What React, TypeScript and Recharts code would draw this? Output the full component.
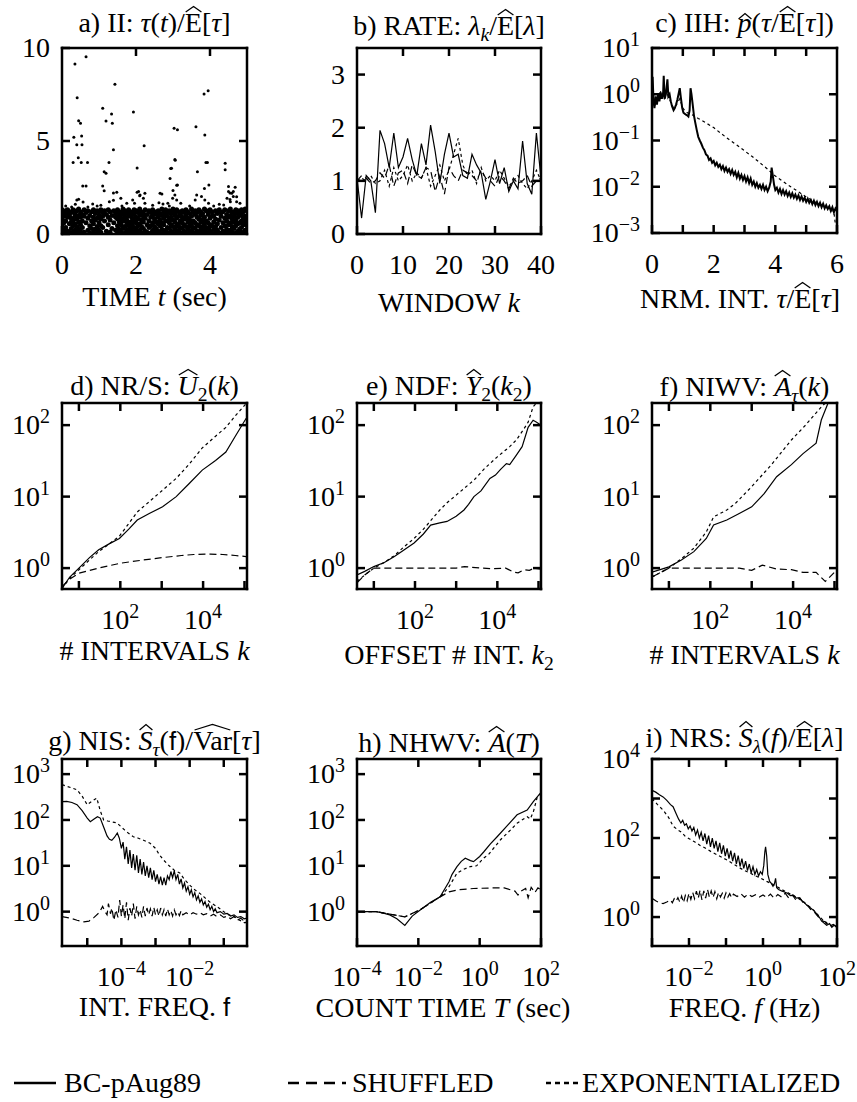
import React from 'react';
import { ComposedChart, Line, Scatter, XAxis, YAxis } from 'recharts';

const FONT = '"Liberation Serif", "Times New Roman", serif';
const SANS = '"Liberation Sans", "DejaVu Sans", sans-serif';

// ---------- a) inter-event intervals (time in sec, normalized interval) ----------
const aOutliers: [number, number][] = [
  [0.35, 9.14], [0.65, 9.53], [0.41, 7.33], [0.45, 6.09], [0.5, 5.95], [0.32, 5.2], [0.53, 5.27], [0.54, 4.8],
  [0.4, 4.8], [0.44, 4.1], [0.3, 3.85], [0.52, 3.85], [0.69, 3.85], [0.56, 2.58], [0.65, 2.58], [1.1, 6.76],
  [1.19, 6.07], [1.34, 6.45], [1.36, 5.95], [1.43, 8.05], [1.39, 4.53], [1.27, 3.84], [1.14, 3.35], [1.19, 3.26],
  [1.1, 2.58], [1.14, 2.33], [1.39, 2.2], [1.48, 2.25], [1.93, 6.56], [2.22, 4.75], [2.03, 3.55], [2.03, 2.25],
  [2.1, 2.05], [2.7, 2.15], [2.92, 2.99], [2.94, 3.52], [3.06, 3.97], [3.03, 5.68], [3.12, 5.6], [3.1, 2.62],
  [3.0, 2.34], [3.62, 5.77], [3.86, 5.32], [3.84, 7.53], [3.95, 7.7], [3.66, 3.35], [3.89, 3.84], [3.93, 3.84],
  [3.85, 2.44], [3.97, 2.63], [4.41, 3.8], [4.41, 3.45], [4.5, 2.55], [4.68, 2.51], [4.54, 2.2], [4.63, 2.28],
  [4.72, 2.0], [4.54, 1.85], [0.4, 1.83], [0.45, 1.87], [0.57, 1.72], [0.36, 1.6], [0.26, 1.45], [0.83, 1.61],
  [1.28, 1.74], [1.39, 1.82], [1.59, 1.92], [1.75, 1.65], [2.07, 2.28], [2.11, 2.1], [2.24, 2.19], [2.2, 1.92],
  [1.91, 1.83], [1.96, 1.65], [2.24, 1.65], [2.65, 2.19], [2.62, 1.68], [2.73, 1.61], [3.05, 4.0], [2.96, 3.53],
  [3.12, 2.63], [3.05, 2.1], [2.99, 1.92], [3.1, 1.83], [2.86, 1.65], [3.21, 1.65], [3.64, 2.1], [3.77, 2.01],
  [3.86, 1.83], [3.6, 1.83], [3.96, 1.65], [4.46, 1.92], [4.63, 2.01], [4.55, 1.74], [4.72, 1.74], [4.81, 1.65],
  [4.37, 1.56], [4.59, 2.19], [4.5, 2.28], [0.1, 1.5], [0.7, 1.45], [0.95, 1.5], [1.05, 1.55], [1.62, 1.5],
  [2.45, 1.55], [2.9, 1.5], [3.45, 1.5], [4.1, 1.5], [4.25, 1.6],
];

// dense band of intervals below ~1.4, one column of readings per time step
const aBand: [number, number[]][] = [
  [0.0, [0.1, 0.45, 0.8, 1.05, 1.3]], [0.05, [0.2, 0.6, 0.95, 1.2]], [0.1, [0.05, 0.35, 0.7, 1.1, 1.25]],
  [0.15, [0.15, 0.9, 1.3]], [0.2, [0.1, 0.55, 1.0, 1.2]], [0.25, [0.3, 0.65, 0.85, 1.15]],
  [0.3, [0.1, 0.45, 0.75, 1.3]], [0.35, [0.2, 0.55, 0.95, 1.1]], [0.4, [0.05, 0.4, 0.8, 1.25]],
  [0.45, [0.25, 0.65, 1.0, 1.35]], [0.5, [0.15, 0.5, 0.9, 1.2]], [0.55, [0.35, 0.7, 1.05]],
  [0.6, [0.1, 0.95, 1.3]], [0.65, [0.6, 1.15]], [0.7, [0.2, 0.85, 1.25]], [0.75, [0.05, 0.45, 1.0]],
  [0.8, [0.3, 0.7, 1.2]], [0.85, [0.1, 0.55, 0.9, 1.3]], [0.9, [0.25, 0.75, 1.1]],
  [0.95, [0.05, 0.4, 0.85, 1.25]], [1.0, [0.2, 0.6, 1.0, 1.2]], [1.05, [0.1, 0.45, 0.8, 1.3]],
  [1.1, [0.35, 0.95, 1.15]], [1.15, [0.7, 1.25]], [1.2, [0.15, 1.05]], [1.25, [0.5, 0.9, 1.3]],
  [1.3, [0.1, 0.75, 1.2]], [1.35, [0.3, 1.0]], [1.4, [0.6, 1.25]], [1.45, [0.2, 0.9, 1.1]],
  [1.5, [0.05, 0.45, 0.8, 1.3]], [1.55, [0.25, 0.65, 1.0, 1.2]], [1.6, [0.1, 0.5, 0.85, 1.15]],
  [1.65, [0.3, 0.7, 1.05, 1.35]], [1.7, [0.05, 0.4, 0.9, 1.25]], [1.75, [0.2, 0.6, 0.75, 1.1]],
  [1.8, [0.1, 0.45, 0.95, 1.3]], [1.85, [0.3, 0.65, 1.0, 1.2]], [1.9, [0.15, 0.5, 0.85, 1.15]],
  [1.95, [0.05, 0.35, 0.7, 1.05, 1.3]], [2.0, [0.25, 0.6, 0.9, 1.25]], [2.05, [0.1, 0.45, 0.8, 1.15]],
  [2.1, [0.2, 0.55, 1.0, 1.35]], [2.15, [0.05, 0.4, 0.75, 1.2]], [2.2, [0.3, 0.65, 0.95, 1.1]],
  [2.25, [0.15, 0.85, 1.3]], [2.3, [0.1, 0.5, 1.05]], [2.35, [0.35, 0.7, 1.25]],
  [2.4, [0.05, 0.45, 0.9, 1.15]], [2.45, [0.2, 0.6, 1.0, 1.3]], [2.5, [0.1, 0.4, 0.8, 1.2]],
  [2.55, [0.3, 0.65, 1.05]], [2.6, [0.15, 0.55, 0.9, 1.25]], [2.65, [0.05, 0.45, 0.75, 1.1]],
  [2.7, [0.25, 0.6, 1.0, 1.35]], [2.75, [0.1, 0.5, 0.85, 1.2]], [2.8, [0.2, 0.7, 1.05, 1.3]],
  [2.85, [0.05, 0.35, 0.95, 1.15]], [2.9, [0.3, 0.6, 0.8, 1.25]], [2.95, [0.15, 0.5, 0.9, 1.1]],
  [3.0, [0.05, 0.4, 0.75, 1.2, 1.35]], [3.05, [0.25, 0.65, 1.0, 1.15]], [3.1, [0.1, 0.45, 0.85, 1.3]],
  [3.15, [0.2, 0.55, 0.95, 1.2]], [3.2, [0.05, 0.35, 0.7, 1.05]], [3.25, [0.3, 0.6, 0.9, 1.25]],
  [3.3, [0.15, 0.5, 0.8, 1.15]], [3.35, [0.05, 0.4, 1.0, 1.3]], [3.4, [0.25, 0.65, 0.85, 1.2]],
  [3.45, [0.1, 0.45, 0.75, 1.1]], [3.5, [0.2, 0.55, 0.95, 1.35]], [3.55, [0.05, 0.35, 0.7, 1.2]],
  [3.6, [0.3, 0.6, 1.05, 1.25]], [3.65, [0.15, 0.5, 0.9, 1.15]], [3.7, [0.1, 0.45, 0.8, 1.3]],
  [3.75, [0.25, 0.65, 1.0, 1.2]], [3.8, [0.05, 0.4, 0.75, 1.1]], [3.85, [0.2, 0.55, 0.9, 1.35]],
  [3.9, [0.1, 0.35, 0.7, 1.25]], [3.95, [0.3, 0.6, 1.05, 1.15]], [4.0, [0.15, 0.5, 0.85, 1.3]],
  [4.05, [0.05, 0.45, 0.95, 1.2]], [4.1, [0.25, 0.65, 1.0]], [4.15, [0.1, 0.4, 0.8, 1.25]],
  [4.2, [0.2, 0.55, 1.1]], [4.25, [0.05, 0.75, 1.3]], [4.3, [0.35, 0.95, 1.15]], [4.35, [0.15, 0.6, 1.2]],
  [4.4, [0.1, 0.45, 0.85, 1.3]], [4.45, [0.25, 0.7, 1.05]], [4.5, [0.05, 0.5, 0.9, 1.25]],
  [4.55, [0.2, 0.6, 1.0, 1.35]], [4.6, [0.1, 0.4, 0.8, 1.15]], [4.65, [0.3, 0.65, 0.95, 1.2]],
  [4.7, [0.05, 0.45, 0.75, 1.1, 1.3]], [4.75, [0.15, 0.55, 0.9, 1.25]], [4.8, [0.25, 0.6, 1.0, 1.15]],
  [4.85, [0.1, 0.35, 0.7, 1.05, 1.3]], [4.9, [0.05, 0.5, 0.85, 1.2]], [4.95, [0.2, 0.65, 0.95, 1.35]],
  [5.0, [0.1, 0.45, 0.8, 1.25]],
];

// ---------- b) rate per window ----------
const bWindows = [0, 1, 2, 3, 4, 5, 6, 7, 8, 9, 10, 11, 12, 13, 14, 15, 16, 17, 18, 19, 20, 21, 22, 23, 24, 25, 26, 27, 28, 29, 30, 31, 32, 33, 34, 35, 36, 37, 38, 39, 40];
const bOrig = [1.05, 0.3, 1.1, 1.0, 0.4, 1.95, 1.7, 1.25, 1.9, 1.25, 1.45, 1.8, 1.4, 1.1, 1.7, 1.3, 2.05, 1.55, 0.95, 1.5, 1.9, 1.45, 1.5, 1.1, 1.05, 1.5, 1.3, 1.15, 0.65, 1.0, 1.4, 0.95, 1.25, 0.8, 1.0, 0.85, 1.75, 0.95, 0.75, 1.9, 1.05];
const bShuf = [1.0, 1.1, 1.05, 0.95, 1.0, 1.15, 1.05, 1.3, 0.9, 1.15, 1.2, 0.95, 1.3, 1.1, 1.05, 1.25, 1.2, 0.8, 1.1, 0.75, 1.25, 1.1, 1.0, 1.2, 1.15, 1.1, 1.0, 1.2, 1.05, 1.0, 0.9, 1.1, 1.0, 0.85, 1.05, 0.95, 1.0, 1.1, 0.9, 1.0, 1.05];
const bExp = [1.0, 1.05, 1.0, 1.1, 0.95, 1.0, 1.2, 0.9, 1.25, 1.0, 1.1, 1.3, 1.0, 1.15, 1.05, 1.25, 0.9, 1.1, 1.3, 1.0, 1.2, 1.5, 1.8, 1.3, 1.1, 1.2, 0.95, 1.25, 1.0, 1.1, 1.0, 1.2, 1.05, 0.9, 1.0, 1.1, 0.95, 0.85, 1.0, 1.2, 1.0];

// ---------- c) interval histogram ----------
const cOrig: [number, number][] = [
  [0, 0.6], [0.02, 2.4], [0.05, 0.7], [0.08, 0.5], [0.12, 0.9], [0.16, 0.6], [0.2, 1.0], [0.24, 0.7], [0.28, 1.1],
  [0.32, 0.8], [0.36, 1.0], [0.38, 2.5], [0.41, 0.8], [0.45, 1.0], [0.5, 2.1], [0.53, 0.9], [0.57, 1.0], [0.61, 0.7],
  [0.65, 0.55], [0.7, 0.45], [0.74, 0.5], [0.78, 0.6], [0.82, 0.75], [0.86, 1.0], [0.9, 1.35], [0.94, 0.8], [0.98, 0.5],
  [1.02, 0.4], [1.06, 0.38], [1.1, 0.36], [1.14, 0.35], [1.18, 0.33], [1.22, 0.45], [1.25, 1.35], [1.28, 1.0],
  [1.32, 0.6], [1.36, 0.35], [1.4, 0.25], [1.45, 0.17], [1.5, 0.12], [1.55, 0.1], [1.6, 0.085], [1.65, 0.07],
  [1.7, 0.062], [1.75, 0.05], [1.8, 0.047], [1.85, 0.038], [1.9, 0.041], [1.95, 0.033], [2.0, 0.036], [2.05, 0.029],
  [2.1, 0.033], [2.15, 0.027], [2.2, 0.03], [2.25, 0.024], [2.3, 0.028], [2.35, 0.022], [2.4, 0.026], [2.45, 0.021],
  [2.5, 0.024], [2.55, 0.019], [2.6, 0.023], [2.65, 0.018], [2.7, 0.021], [2.75, 0.016], [2.8, 0.02], [2.85, 0.015],
  [2.9, 0.018], [2.95, 0.014], [3.0, 0.017], [3.05, 0.013], [3.1, 0.016], [3.15, 0.012], [3.2, 0.015], [3.25, 0.011],
  [3.3, 0.013], [3.35, 0.01], [3.4, 0.012], [3.45, 0.0095], [3.5, 0.011], [3.55, 0.009], [3.6, 0.011], [3.65, 0.0085],
  [3.7, 0.01], [3.75, 0.008], [3.8, 0.0095], [3.85, 0.013], [3.88, 0.026], [3.92, 0.017], [3.96, 0.011], [4.0, 0.0085],
  [4.05, 0.0095], [4.1, 0.0075], [4.15, 0.009], [4.2, 0.007], [4.25, 0.0085], [4.3, 0.0068], [4.35, 0.008],
  [4.4, 0.0063], [4.45, 0.0075], [4.5, 0.006], [4.55, 0.0072], [4.6, 0.0058], [4.65, 0.0068], [4.7, 0.0055],
  [4.75, 0.0065], [4.8, 0.0052], [4.85, 0.0062], [4.9, 0.005], [4.95, 0.0058], [5.0, 0.0047], [5.05, 0.0055],
  [5.1, 0.0045], [5.15, 0.0052], [5.2, 0.0042], [5.25, 0.005], [5.3, 0.004], [5.35, 0.0047], [5.4, 0.0038],
  [5.45, 0.0045], [5.5, 0.0036], [5.55, 0.0043], [5.6, 0.0034], [5.65, 0.004], [5.7, 0.0033], [5.75, 0.0038],
  [5.8, 0.003], [5.85, 0.0036], [5.9, 0.0028], [5.95, 0.0034], [6.0, 0.003],
];
const cExp: [number, number][] = [
  [0, 0.8], [0.1, 0.6], [0.2, 0.9], [0.3, 1.2], [0.4, 0.8], [0.5, 1.0], [0.6, 0.7], [0.7, 0.5], [0.8, 0.6], [0.9, 0.8],
  [1.0, 0.5], [1.1, 0.42], [1.2, 0.38], [1.3, 0.36], [1.4, 0.33], [1.5, 0.3], [1.75, 0.24], [2.0, 0.19], [2.25, 0.14],
  [2.5, 0.105], [2.75, 0.08], [3.0, 0.06], [3.25, 0.045], [3.5, 0.033], [3.75, 0.024], [4.0, 0.017], [4.25, 0.013],
  [4.5, 0.01], [4.75, 0.0078], [5.0, 0.006], [5.25, 0.0048], [5.5, 0.004], [5.75, 0.0033], [5.9, 0.0028], [5.95, 0.0015],
];

// ---------- d) R/S ----------
const dOrig: [number, number][] = [[3.9, 0.52], [6, 0.75], [10, 1.0], [18, 1.4], [30, 1.8], [55, 2.2], [95, 2.6], [160, 3.5], [257, 4.7], [500, 5.8], [1050, 7.2], [2240, 10], [4500, 15], [9550, 23.5], [20000, 32], [35500, 42], [60000, 70], [110000, 125]];
const dExp: [number, number][] = [[3.9, 0.52], [6, 0.72], [10, 0.95], [18, 1.3], [30, 1.7], [55, 2.2], [95, 2.8], [160, 4.2], [257, 6.1], [500, 8.5], [1050, 12.3], [2240, 18], [4500, 28], [9550, 48], [20000, 70], [35500, 93], [60000, 135], [110000, 200]];
const dShuf: [number, number][] = [[3.9, 0.55], [6, 0.7], [10, 0.85], [30, 1.0], [100, 1.17], [300, 1.28], [1000, 1.4], [3000, 1.5], [6000, 1.55], [15000, 1.57], [30000, 1.55], [60000, 1.5], [110000, 1.45]];

// ---------- e) normalized difference ----------
const eOrig: [number, number][] = [[3.9, 0.8], [6, 0.9], [10, 1.05], [18, 1.2], [31.6, 1.45], [55, 1.8], [95, 2.25], [160, 3.0], [240, 4.0], [400, 4.3], [600, 4.5], [1000, 5.3], [1550, 6.5], [2000, 7.8], [2700, 10], [4000, 12], [6600, 18], [9000, 20], [12000, 24], [16600, 29], [20000, 28], [29000, 38], [40000, 50], [56000, 93], [74000, 117], [90000, 110], [115000, 100]];
const eExp: [number, number][] = [[3.9, 0.65], [6, 0.8], [10, 1.0], [18, 1.2], [31.6, 1.5], [55, 2.0], [95, 2.6], [160, 3.5], [240, 4.6], [400, 6.5], [600, 8.2], [1000, 10.5], [2700, 17], [5000, 25], [10000, 36], [20000, 50], [29000, 62], [45000, 90], [56000, 110], [74000, 180], [90000, 204]];
const eShuf: [number, number][] = [[3.9, 0.62], [6, 0.8], [10, 1.0], [100, 1.0], [1000, 1.0], [1600, 1.05], [4000, 1.0], [8000, 0.98], [16000, 1.0], [25000, 0.88], [32000, 0.86], [45000, 0.95], [60000, 0.93], [80000, 1.0], [115000, 0.97]];

// ---------- f) interval wavelet variance ----------
const fOrig: [number, number][] = [[3.9, 0.88], [10, 1.04], [20, 1.3], [40, 1.7], [80, 2.6], [120, 4.0], [250, 4.7], [500, 5.8], [1000, 7.2], [2000, 11], [4000, 19], [9100, 28], [17400, 40], [36000, 56], [48000, 118], [70000, 204]];
const fExp: [number, number][] = [[3.9, 0.75], [10, 1.0], [20, 1.35], [40, 1.9], [80, 3.2], [120, 5.2], [250, 6.5], [400, 8.0], [1000, 13.8], [3000, 28], [9100, 62], [20000, 100], [48000, 180], [60000, 204]];
const fShuf: [number, number][] = [[3.9, 0.75], [10, 1.0], [100, 1.0], [500, 1.0], [1000, 0.93], [1800, 1.1], [4000, 0.97], [9100, 0.95], [17400, 0.87], [36000, 0.87], [60000, 0.65], [115000, 0.95]];

// ---------- g) interval spectrum, x given as log10(f) ----------
const gOrig: [number, number][] = [
  [-5.74, 250], [-5.6, 255], [-5.45, 240], [-5.3, 215], [-5.15, 160], [-5.0, 110], [-4.91, 92], [-4.8, 105], [-4.7, 118],
  [-4.62, 110], [-4.52, 70], [-4.42, 45], [-4.35, 38], [-4.28, 36], [-4.2, 42], [-4.12, 52], [-4.06, 40], [-4.0, 24],
  [-3.95, 33], [-3.9, 14], [-3.85, 26], [-3.8, 11], [-3.75, 22], [-3.7, 9], [-3.65, 18], [-3.6, 8], [-3.55, 17],
  [-3.5, 7], [-3.45, 14], [-3.4, 6.5], [-3.35, 12], [-3.3, 6], [-3.25, 10], [-3.2, 5.5], [-3.15, 9], [-3.1, 5],
  [-3.05, 8], [-3.0, 4.5], [-2.95, 6.5], [-2.9, 4.0], [-2.85, 5.8], [-2.8, 3.8], [-2.75, 5.5], [-2.7, 3.8], [-2.65, 6],
  [-2.6, 5], [-2.55, 7.5], [-2.5, 5.5], [-2.45, 7.8], [-2.4, 5], [-2.35, 6.5], [-2.3, 4], [-2.25, 5.2], [-2.2, 3.3],
  [-2.15, 4.2], [-2.1, 2.8], [-2.05, 3.5], [-2.0, 2.4], [-1.95, 3.0], [-1.9, 2.1], [-1.85, 2.6], [-1.8, 1.8],
  [-1.75, 2.2], [-1.7, 1.6], [-1.65, 1.9], [-1.6, 1.4], [-1.55, 1.65], [-1.5, 1.25], [-1.45, 1.45], [-1.4, 1.1],
  [-1.35, 1.3], [-1.3, 1.0], [-1.25, 1.15], [-1.2, 0.95], [-1.1, 1.0], [-1.0, 0.88], [-0.9, 0.92], [-0.8, 0.8],
  [-0.7, 0.85], [-0.6, 0.75], [-0.5, 0.78], [-0.4, 0.7], [-0.32, 0.72],
];
const gExp: [number, number][] = [
  [-5.74, 590], [-5.6, 540], [-5.45, 500], [-5.3, 456], [-5.15, 330], [-5.0, 215], [-4.85, 260], [-4.72, 300],
  [-4.62, 160], [-4.52, 100], [-4.4, 95], [-4.25, 90], [-4.13, 86], [-4.0, 70], [-3.9, 60], [-3.8, 52], [-3.65, 43],
  [-3.5, 40], [-3.35, 36], [-3.16, 31], [-3.0, 24], [-2.9, 18], [-2.77, 13.5], [-2.6, 10], [-2.45, 8], [-2.29, 7],
  [-2.15, 5], [-2.0, 3.8], [-1.85, 3.0], [-1.7, 2.5], [-1.55, 2.0], [-1.4, 1.6], [-1.21, 1.3], [-1.0, 1.0],
  [-0.85, 0.85], [-0.73, 0.8], [-0.55, 0.66], [-0.38, 0.57], [-0.32, 0.6],
];
const gShuf: [number, number][] = [
  [-5.74, 0.78], [-5.5, 0.72], [-5.3, 0.65], [-5.1, 0.6], [-4.95, 0.62], [-4.8, 0.75], [-4.65, 0.95], [-4.55, 1.3],
  [-4.48, 1.0], [-4.42, 0.85], [-4.38, 1.5], [-4.32, 0.9], [-4.28, 1.2], [-4.22, 0.65], [-4.16, 1.1], [-4.1, 0.75],
  [-4.05, 1.8], [-4.0, 0.8], [-3.95, 1.4], [-3.9, 0.7], [-3.85, 1.6], [-3.8, 0.65], [-3.75, 1.2], [-3.7, 0.8],
  [-3.65, 1.5], [-3.6, 0.7], [-3.55, 1.3], [-3.5, 0.85], [-3.45, 1.1], [-3.4, 0.75], [-3.35, 1.3], [-3.3, 0.8],
  [-3.25, 1.2], [-3.2, 0.85], [-3.15, 1.15], [-3.1, 0.8], [-3.05, 1.25], [-3.0, 0.85], [-2.95, 1.1], [-2.9, 0.8],
  [-2.85, 1.2], [-2.8, 0.85], [-2.75, 1.1], [-2.7, 0.8], [-2.65, 1.15], [-2.6, 0.85], [-2.55, 1.05], [-2.5, 0.8],
  [-2.45, 1.1], [-2.4, 0.85], [-2.35, 1.0], [-2.3, 0.82], [-2.25, 1.05], [-2.2, 0.85], [-2.1, 0.95], [-2.0, 0.85],
  [-1.9, 0.95], [-1.8, 0.88], [-1.7, 0.95], [-1.6, 0.85], [-1.5, 0.9], [-1.4, 0.8], [-1.3, 0.88], [-1.2, 0.78],
  [-1.1, 0.85], [-1.0, 0.75], [-0.9, 0.8], [-0.8, 0.7], [-0.7, 0.78], [-0.6, 0.65], [-0.5, 0.72], [-0.4, 0.62],
  [-0.32, 0.7],
];

// ---------- h) Haar wavelet variance of counts, x as log10(T) ----------
const hOrig: [number, number][] = [[-4, 1.0], [-3.7, 1.0], [-3.38, 1.0], [-3.2, 0.95], [-2.93, 0.85], [-2.7, 0.7], [-2.44, 0.5], [-2.2, 0.8], [-1.94, 1.09], [-1.6, 1.6], [-1.29, 2.1], [-1.0, 4.5], [-0.9, 6.5], [-0.74, 9.6], [-0.6, 12.5], [-0.47, 14.6], [-0.3, 13], [-0.2, 12.3], [0.0, 16], [0.13, 20], [0.35, 30], [0.57, 43], [0.9, 75], [1.22, 130], [1.55, 165], [1.75, 250], [2.0, 400]];
const hExp: [number, number][] = [[-4, 1.0], [-3.38, 1.0], [-2.93, 0.88], [-2.44, 0.77], [-1.94, 1.1], [-1.29, 2.1], [-1.0, 3.5], [-0.74, 6.9], [-0.5, 8.5], [-0.31, 9.6], [-0.1, 10], [0.13, 14.7], [0.3, 18], [0.68, 37], [1.0, 60], [1.22, 85], [1.55, 118], [1.65, 105], [1.75, 150], [1.88, 320], [2.0, 380]];
const hShuf: [number, number][] = [[-4, 1.0], [-3.38, 1.0], [-2.93, 0.88], [-2.44, 0.77], [-1.94, 1.1], [-1.29, 2.1], [-1.0, 2.7], [-0.7, 3.0], [-0.2, 3.2], [0.5, 3.3], [0.8, 3.3], [1.0, 3.0], [1.15, 2.8], [1.25, 2.3], [1.35, 2.8], [1.5, 3.2], [1.58, 2.0], [1.68, 3.4], [1.8, 2.6], [1.9, 3.3], [2.0, 3.0]];

// ---------- i) rate spectrum, x as log10(f) ----------
const iOrig: [number, number][] = [
  [-3.0, 1620], [-2.9, 1450], [-2.8, 1250], [-2.7, 1100], [-2.6, 900], [-2.5, 700], [-2.43, 620], [-2.35, 420],
  [-2.28, 300], [-2.22, 240], [-2.17, 280], [-2.12, 210], [-2.07, 230], [-2.02, 170], [-1.97, 200], [-1.92, 150],
  [-1.87, 185], [-1.82, 120], [-1.77, 160], [-1.72, 100], [-1.67, 140], [-1.62, 85], [-1.57, 130], [-1.52, 70],
  [-1.47, 115], [-1.42, 60], [-1.37, 100], [-1.32, 55], [-1.27, 85], [-1.22, 45], [-1.17, 75], [-1.12, 40],
  [-1.07, 65], [-1.02, 35], [-0.97, 55], [-0.92, 30], [-0.87, 48], [-0.82, 26], [-0.77, 42], [-0.72, 22],
  [-0.67, 36], [-0.62, 19], [-0.57, 30], [-0.52, 17], [-0.47, 26], [-0.42, 15], [-0.37, 22], [-0.32, 13],
  [-0.27, 19], [-0.22, 12], [-0.17, 16], [-0.12, 11], [-0.07, 14], [-0.02, 12], [0.02, 20], [0.05, 45], [0.07, 60],
  [0.1, 35], [0.13, 12], [0.18, 8], [0.22, 7.2], [0.27, 6], [0.31, 7], [0.34, 9.5], [0.37, 5.5], [0.42, 5],
  [0.5, 4.6], [0.58, 4.3], [0.66, 4.0], [0.74, 3.5], [0.82, 3.6], [0.9, 3.0], [0.98, 3.1], [1.05, 2.6], [1.1, 2.4],
  [1.18, 2.0], [1.25, 1.8], [1.32, 1.6], [1.37, 1.5], [1.45, 1.2], [1.52, 1.0], [1.58, 0.8], [1.65, 0.7],
  [1.72, 0.62], [1.8, 0.68], [1.86, 0.55], [1.92, 0.62], [2.0, 0.57],
];
const iExp: [number, number][] = [
  [-3.0, 1000], [-2.85, 700], [-2.7, 510], [-2.55, 330], [-2.43, 200], [-2.3, 160], [-2.2, 140], [-2.1, 110],
  [-1.97, 93], [-1.85, 80], [-1.7, 65], [-1.55, 55], [-1.4, 45], [-1.25, 38], [-1.1, 32], [-0.95, 27], [-0.8, 22],
  [-0.65, 18], [-0.5, 15], [-0.35, 13], [-0.2, 11], [-0.05, 9.5], [0.1, 8], [0.3, 6.5], [0.5, 5], [0.7, 4],
  [0.9, 3.2], [1.1, 2.4], [1.3, 1.7], [1.5, 1.1], [1.7, 0.7], [1.85, 0.6], [2.0, 0.55],
];
const iShuf: [number, number][] = [
  [-3.0, 3.0], [-2.9, 2.6], [-2.8, 2.3], [-2.7, 2.2], [-2.6, 2.4], [-2.5, 2.7], [-2.45, 2.3], [-2.4, 2.9],
  [-2.35, 2.5], [-2.3, 3.1], [-2.25, 2.4], [-2.2, 3.4], [-2.15, 2.3], [-2.1, 3.5], [-2.05, 2.6], [-2.0, 4.0],
  [-1.95, 2.8], [-1.9, 4.2], [-1.85, 2.9], [-1.8, 4.5], [-1.75, 3.0], [-1.7, 4.8], [-1.65, 2.7], [-1.6, 4.6],
  [-1.55, 3.0], [-1.5, 5.0], [-1.45, 3.2], [-1.4, 4.6], [-1.35, 3.1], [-1.3, 4.4], [-1.25, 2.9], [-1.2, 4.2],
  [-1.15, 3.2], [-1.1, 4.0], [-1.05, 3.0], [-1.0, 4.1], [-0.95, 3.2], [-0.9, 3.9], [-0.85, 3.1], [-0.8, 3.8],
  [-0.7, 3.3], [-0.6, 3.9], [-0.5, 3.2], [-0.4, 3.8], [-0.3, 3.3], [-0.2, 3.7], [-0.1, 3.2], [0.0, 3.6], [0.1, 3.1],
  [0.2, 3.8], [0.3, 3.0], [0.4, 3.7], [0.5, 3.2], [0.6, 4.0], [0.7, 3.0], [0.8, 3.6], [0.9, 2.6], [1.0, 3.0],
  [1.1, 2.2], [1.2, 2.0], [1.3, 1.5], [1.4, 1.3], [1.5, 1.0], [1.6, 0.8], [1.7, 0.75], [1.8, 0.6], [1.9, 0.65],
  [2.0, 0.55],
];

// ---------- helpers ----------
type Pt = { x: number; y: number };
const pts = (pairs: [number, number][]): Pt[] => pairs.map(([x, y]) => ({ x, y }));
const logPts = (pairs: [number, number][]): Pt[] => pairs.map(([e, y]) => ({ x: Math.pow(10, e), y }));

const SOLID = undefined;
const SHUF = '7 4';
const EXP = '3 3';

const FS = 28; // main text size
const near = (a: number, b: number) => Math.abs(a - b) <= 1e-6 * Math.max(Math.abs(a), Math.abs(b), 1e-12);

const tickLabel = (side: 'bottom' | 'left', labels: number[], log: boolean) => (props: any) => {
  const { x, y, payload } = props;
  const v = Number(payload.value);
  if (!labels.some((l) => near(l, v))) return <g />;
  const tx = side === 'bottom' ? x : x - 12;
  const ty = side === 'bottom' ? y + 40 : y + 9;
  const anchor = side === 'bottom' ? 'middle' : 'end';
  if (!log) {
    return (
      <text x={tx} y={ty} textAnchor={anchor} fontFamily={FONT} fontSize={FS} fill="#000">
        {v}
      </text>
    );
  }
  const n = Math.round(Math.log10(v));
  return (
    <text x={tx} y={ty} textAnchor={anchor} fontFamily={FONT} fontSize={FS} fill="#000">
      10
      <tspan fontSize={20} dy={-11}>
        {n < 0 ? '\u2212' + -n : String(n)}
      </tspan>
    </text>
  );
};
const noLabel = () => <g />;

const frame = { stroke: '#000', strokeWidth: 2.5, strokeLinecap: 'square' as const };
const tickStyle = { stroke: '#000', strokeWidth: 2.5 };

const AX_L = 70;
const AX_T = 30;
const AX_R = 40;
const AX_B = 50;

type Series = { data: Pt[]; dash?: string; width?: number };

type PanelProps = {
  box: [number, number, number, number];
  xDomain: [number, number];
  yDomain: [number, number];
  xLog?: boolean;
  yLog?: boolean;
  xTicks: number[];
  xTopTicks: number[];
  xLabels: number[];
  yTicks: number[];
  yRightTicks: number[];
  yLabels: number[];
  lines: Series[];
  dots?: Pt[];
  band?: Pt[];
};

function Panel(p: PanelProps) {
  const [bx, by, bw, bh] = p.box;
  const xScale = p.xLog ? 'log' : 'linear';
  const yScale = p.yLog ? 'log' : 'linear';
  return (
    <div style={{ position: 'absolute', left: bx - AX_L, top: by - AX_T }}>
      <ComposedChart width={AX_L + bw + AX_R} height={AX_T + bh + AX_B} margin={{ top: 0, right: 0, bottom: 0, left: 0 }}>
        <XAxis xAxisId="b" type="number" dataKey="x" scale={xScale} domain={p.xDomain} allowDataOverflow
          ticks={p.xTicks} interval={0} height={AX_B} tickSize={-8} tickMargin={8}
          axisLine={frame} tickLine={tickStyle} tick={tickLabel('bottom', p.xLabels, !!p.xLog)} />
        <XAxis xAxisId="t" orientation="top" type="number" dataKey="x" scale={xScale} domain={p.xDomain} allowDataOverflow
          ticks={p.xTopTicks} interval={0} height={AX_T} tickSize={-8} tickMargin={8}
          axisLine={frame} tickLine={tickStyle} tick={noLabel} />
        <YAxis yAxisId="l" type="number" dataKey="y" scale={yScale} domain={p.yDomain} allowDataOverflow
          ticks={p.yTicks} interval={0} width={AX_L} tickSize={-8} tickMargin={8}
          axisLine={frame} tickLine={tickStyle} tick={tickLabel('left', p.yLabels, !!p.yLog)} />
        <YAxis yAxisId="r" orientation="right" type="number" dataKey="y" scale={yScale} domain={p.yDomain} allowDataOverflow
          ticks={p.yRightTicks} interval={0} width={AX_R} tickSize={-8} tickMargin={8}
          axisLine={frame} tickLine={tickStyle} tick={noLabel} />
        {p.band && (
          <Scatter xAxisId="b" yAxisId="l" data={p.band} dataKey="y" isAnimationActive={false}
            shape={(s: any) => <circle cx={s.cx} cy={s.cy} r={2.5} fill="#000" />} />
        )}
        {p.dots && (
          <Scatter xAxisId="b" yAxisId="l" data={p.dots} dataKey="y" isAnimationActive={false}
            shape={(s: any) => <circle cx={s.cx} cy={s.cy} r={1.5} fill="#000" />} />
        )}
        {p.lines.map((s, i) => (
          <Line key={i} xAxisId="b" yAxisId="l" data={s.data} dataKey="y" type="linear" dot={false}
            stroke="#000" strokeWidth={s.width ?? 1.2} strokeDasharray={s.dash} isAnimationActive={false} />
        ))}
      </ComposedChart>
    </div>
  );
}

function Hat({ children, lift = 0 }: { children: React.ReactNode; lift?: number }) {
  return (
    <span style={{ position: 'relative', display: 'inline-block' }}>
      {children}
      <svg style={{ position: 'absolute', left: 0, top: -3 + lift, width: '100%', height: 6, overflow: 'visible' }}
        viewBox="0 0 100 6" preserveAspectRatio="none">
        <polyline points="4,6 50,0.5 96,6" fill="none" stroke="#000" strokeWidth={1.3} vectorEffect="non-scaling-stroke" />
      </svg>
    </span>
  );
}

const Sub = ({ children }: { children: React.ReactNode }) => (
  <span style={{ fontSize: '0.7em', position: 'relative', top: '0.3em' }}>{children}</span>
);
const Sf = ({ children }: { children: React.ReactNode }) => (
  <span style={{ fontFamily: SANS, fontSize: '0.92em' }}>{children}</span>
);

function Caption({ cx, baseline, children }: { cx: number; baseline: number; children: React.ReactNode }) {
  return (
    <div style={{
      position: 'absolute', left: cx - 200, width: 400, top: baseline - 23, textAlign: 'center',
      fontFamily: FONT, fontSize: FS, lineHeight: FS + 'px', whiteSpace: 'nowrap', color: '#000',
    }}>
      {children}
    </div>
  );
}

const bPts = (vals: number[]): Pt[] => vals.map((y, i) => ({ x: bWindows[i], y }));
const aBandPts: Pt[] = aBand.flatMap(([t, vs]) => vs.map((v) => ({ x: t, y: v })));

const C1 = 154.5;
const C2 = 449;
const C3 = 744.5;

export default function App() {
  return (
    <div style={{ position: 'absolute', left: 0, top: 0, width: 857, height: 1102, background: '#fff', fontFamily: FONT, overflow: 'hidden' }}>
      {/* row 1 */}
      <Panel box={[62, 48, 185, 186]} xDomain={[0, 5]} yDomain={[0, 10]}
        xTicks={[0, 2, 4]} xTopTicks={[2, 4]} xLabels={[0, 2, 4]}
        yTicks={[0, 5, 10]} yRightTicks={[5]} yLabels={[0, 5, 10]} lines={[]} band={aBandPts} dots={pts(aOutliers)} />
      <Panel box={[357, 48, 184, 186]} xDomain={[0, 40]} yDomain={[0, 3.5]}
        xTicks={[0, 10, 20, 30, 40]} xTopTicks={[10, 20, 30]} xLabels={[0, 10, 20, 30, 40]}
        yTicks={[0, 1, 2, 3]} yRightTicks={[1, 2, 3]} yLabels={[0, 1, 2, 3]}
        lines={[{ data: bPts(bShuf), dash: SHUF }, { data: bPts(bExp), dash: EXP }, { data: bPts(bOrig), dash: SOLID }]} />
      <Panel box={[652, 48, 185, 185]} xDomain={[0, 6]} yDomain={[0.001, 10]} yLog
        xTicks={[0, 1, 2, 3, 4, 5, 6]} xTopTicks={[1, 2, 3, 4, 5]} xLabels={[0, 2, 4, 6]}
        yTicks={[0.001, 0.01, 0.1, 1, 10]} yRightTicks={[0.01, 0.1, 1]} yLabels={[0.001, 0.01, 0.1, 1, 10]}
        lines={[{ data: pts(cExp), dash: EXP }, { data: pts(cOrig), dash: SOLID, width: 2 }]} />

      {/* row 2 */}
      <Panel box={[62, 403, 185, 186]} xDomain={[3.9, 115000]} yDomain={[0.51, 204]} xLog yLog
        xTicks={[10, 100, 1000, 10000, 100000]} xTopTicks={[10, 100, 1000, 10000]} xLabels={[100, 10000]}
        yTicks={[1, 10, 100]} yRightTicks={[1, 10, 100]} yLabels={[1, 10, 100]}
        lines={[{ data: pts(dShuf), dash: SHUF }, { data: pts(dExp), dash: EXP }, { data: pts(dOrig), dash: SOLID }]} />
      <Panel box={[357, 403, 184, 186]} xDomain={[3.9, 115000]} yDomain={[0.51, 204]} xLog yLog
        xTicks={[10, 100, 1000, 10000, 100000]} xTopTicks={[10, 100, 1000, 10000]} xLabels={[100, 10000]}
        yTicks={[1, 10, 100]} yRightTicks={[1, 10, 100]} yLabels={[1, 10, 100]}
        lines={[{ data: pts(eShuf), dash: SHUF }, { data: pts(eExp), dash: EXP }, { data: pts(eOrig), dash: SOLID }]} />
      <Panel box={[652, 403, 185, 186]} xDomain={[3.9, 115000]} yDomain={[0.51, 204]} xLog yLog
        xTicks={[10, 100, 1000, 10000, 100000]} xTopTicks={[10, 100, 1000, 10000]} xLabels={[100, 10000]}
        yTicks={[1, 10, 100]} yRightTicks={[1, 10, 100]} yLabels={[1, 10, 100]}
        lines={[{ data: pts(fShuf), dash: SHUF }, { data: pts(fExp), dash: EXP }, { data: pts(fOrig), dash: SOLID }]} />

      {/* row 3 */}
      <Panel box={[62, 759, 185, 187]} xDomain={[1.82e-6, 0.479]} yDomain={[0.178, 2138]} xLog yLog
        xTicks={[1e-5, 1e-4, 1e-3, 1e-2, 1e-1]} xTopTicks={[1e-5, 1e-4, 1e-3, 1e-2, 1e-1]} xLabels={[1e-4, 1e-2]}
        yTicks={[1, 10, 100, 1000]} yRightTicks={[1, 10, 100, 1000]} yLabels={[1, 10, 100, 1000]}
        lines={[{ data: logPts(gShuf), dash: SHUF }, { data: logPts(gExp), dash: EXP }, { data: logPts(gOrig), dash: SOLID }]} />
      <Panel box={[357, 759, 184, 187]} xDomain={[1e-4, 100]} yDomain={[0.178, 2138]} xLog yLog
        xTicks={[1e-4, 1e-2, 1, 100]} xTopTicks={[1e-2, 1]} xLabels={[1e-4, 1e-2, 1, 100]}
        yTicks={[1, 10, 100, 1000]} yRightTicks={[1, 10, 100, 1000]} yLabels={[1, 10, 100, 1000]}
        lines={[{ data: logPts(hShuf), dash: SHUF }, { data: logPts(hExp), dash: EXP }, { data: logPts(hOrig), dash: SOLID }]} />
      <Panel box={[652, 759, 185, 187]} xDomain={[1e-3, 100]} yDomain={[0.185, 10000]} xLog yLog
        xTicks={[1e-3, 1e-2, 1e-1, 1, 10, 100]} xTopTicks={[1e-2, 1e-1, 1, 10]} xLabels={[1e-2, 1, 100]}
        yTicks={[1, 10, 100, 1000, 10000]} yRightTicks={[1, 10, 100, 1000]} yLabels={[1, 100, 10000]}
        lines={[{ data: logPts(iShuf), dash: SHUF }, { data: logPts(iExp), dash: EXP }, { data: logPts(iOrig), dash: SOLID }]} />

      {/* titles */}
      <Caption cx={C1} baseline={32}>a) II: <i>τ</i>(<i>t</i>)/<Hat>E</Hat>[<i>τ</i>]</Caption>
      <Caption cx={C2} baseline={35}>b) RATE: <i>λ</i><Sub><i>k</i></Sub>/<Hat>E</Hat>[<i>λ</i>]</Caption>
      <Caption cx={C3} baseline={32}>c) IIH: <Hat lift={7}><i>p</i></Hat>(<i>τ</i>/<Hat>E</Hat>[<i>τ</i>])</Caption>
      <Caption cx={C1} baseline={395}>d) NR/S: <Hat><i>U</i></Hat><Sub>2</Sub>(<i>k</i>)</Caption>
      <Caption cx={C2} baseline={395}>e) NDF: <Hat><i>Y</i></Hat><Sub>2</Sub>(<i>k</i><Sub>2</Sub>)</Caption>
      <Caption cx={C3} baseline={396}>f) NIWV: <Hat><i>A</i></Hat><Sub><i>τ</i></Sub>(<i>k</i>)</Caption>
      <Caption cx={C1} baseline={750}>g) NIS: <Hat><i>S</i></Hat><Sub><i>τ</i></Sub>(<Sf>f</Sf>)/<Hat>Var</Hat>[<i>τ</i>]</Caption>
      <Caption cx={C2} baseline={752}>h) NHWV: <Hat><i>A</i></Hat>(<i>T</i>)</Caption>
      <Caption cx={C3} baseline={747}>i) NRS: <Hat><i>S</i></Hat><Sub><i>λ</i></Sub>(<i>f</i>)/<Hat>E</Hat>[<i>λ</i>]</Caption>

      {/* axis labels */}
      <Caption cx={C1} baseline={306}>TIME <i>t</i> (sec)</Caption>
      <Caption cx={C2} baseline={312}>WINDOW <i>k</i></Caption>
      <Caption cx={740} baseline={308}>NRM. INT. <i>τ</i>/<Hat>E</Hat>[<i>τ</i>]</Caption>
      <Caption cx={C1} baseline={660}># INTERVALS <i>k</i></Caption>
      <Caption cx={C2} baseline={664}>OFFSET # INT. <i>k</i><Sub>2</Sub></Caption>
      <Caption cx={C3} baseline={664}># INTERVALS <i>k</i></Caption>
      <Caption cx={C1} baseline={1016}>INT. FREQ. <Sf>f</Sf></Caption>
      <Caption cx={443} baseline={1017}>COUNT TIME <i>T</i> (sec)</Caption>
      <Caption cx={C3} baseline={1017}>FREQ. <i>f</i> (Hz)</Caption>

      {/* legend */}
      <svg style={{ position: 'absolute', left: 0, top: 1060 }} width={857} height={42}>
        <line x1={14} y1={23} x2={56} y2={23} stroke="#000" strokeWidth={2.5} />
        <text x={64} y={32} fontFamily={FONT} fontSize={FS}>BC-pAug89</text>
        <line x1={288} y1={23} x2={346} y2={23} stroke="#000" strokeWidth={2.5} strokeDasharray="11 7" />
        <text x={352} y={32} fontFamily={FONT} fontSize={FS}>SHUFFLED</text>
        <line x1={546} y1={23} x2={578} y2={23} stroke="#000" strokeWidth={2.5} strokeDasharray="5 4" />
        <text x={582} y={32} fontFamily={FONT} fontSize={FS}>EXPONENTIALIZED</text>
      </svg>
    </div>
  );
}
